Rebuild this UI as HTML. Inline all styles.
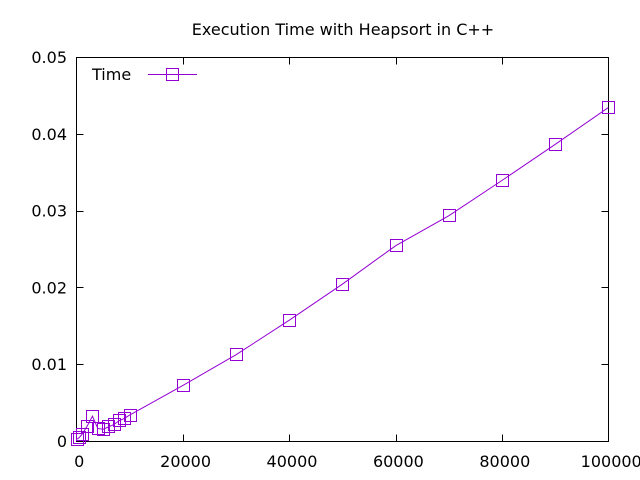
<!DOCTYPE html>
<html>
<head>
<meta charset="utf-8">
<title>Execution Time with Heapsort in C++</title>
<style>
html,body{margin:0;padding:0;background:#fff;width:640px;height:480px;overflow:hidden}
svg{display:block}
text{font-family:"DejaVu Sans","Liberation Sans",sans-serif;fill:#000}
</style>
</head>
<body>
<svg id="chart" width="640" height="480" viewBox="0 0 640 480" xmlns="http://www.w3.org/2000/svg">
<rect x="0" y="0" width="640" height="480" fill="#fff"/>
<text x="343" y="35" font-size="16" text-anchor="middle">Execution Time with Heapsort in C++</text>
<g id="ticks"></g>
<rect x="76.5" y="57.5" width="532" height="384" fill="none" stroke="#000" stroke-width="1"/>
<g id="series"></g>
<g>
<text x="92" y="80" font-size="16">Time</text>
<line x1="148" y1="74.5" x2="197" y2="74.5" stroke="#9400d3" stroke-width="1"/>
<rect x="166.5" y="68.5" width="12" height="12" fill="none" stroke="#9400d3" stroke-width="1"/>
</g>
</svg>
<script>
var sizes = [100, 500, 1000, 2000, 3000, 4000, 5000, 6000, 7000, 8000, 9000, 10000, 20000, 30000, 40000, 50000, 60000, 70000, 80000, 90000, 100000];
var times = [0.0003, 0.0005, 0.0009, 0.002, 0.0033, 0.0017, 0.0016, 0.0019, 0.0022, 0.0027, 0.003, 0.00345, 0.0073, 0.0113, 0.0158, 0.0205, 0.0255, 0.0294, 0.034, 0.0387, 0.0435];
var xTickValues = [0, 20000, 40000, 60000, 80000, 100000];
var yTickValues = [0, 0.01, 0.02, 0.03, 0.04, 0.05];
var yTickLabels = ['0', '0.01', '0.02', '0.03', '0.04', '0.05'];
var xMax = 100000;
var yMax = 0.05;

var SVG_NS = 'http://www.w3.org/2000/svg';
var plotLeft = 76.5, plotRight = 608.5, plotTop = 57.5, plotBottom = 441.5;
var tickLength = 7;

function xScale(v) { return plotLeft + (v / xMax) * (plotRight - plotLeft); }
function yScale(v) { return plotBottom - (v / yMax) * (plotBottom - plotTop); }
function crispX(p) { return Math.round(p - 0.1) + 0.5; }
function crispY(p) { return Math.floor(p) + 0.5; }

function svgEl(tag, attrs) {
  var el = document.createElementNS(SVG_NS, tag);
  for (var k in attrs) { el.setAttribute(k, attrs[k]); }
  return el;
}

var ticksGroup = document.getElementById('ticks');
var seriesGroup = document.getElementById('series');

xTickValues.forEach(function (v) {
  var x = crispX(xScale(v));
  [[plotBottom, plotBottom - tickLength], [plotTop, plotTop + tickLength]].forEach(function (pair) {
    var tick = svgEl('line', { x1: x, x2: x, y1: pair[0], y2: pair[1], stroke: '#000', 'stroke-width': 1 });
    
    
    ticksGroup.appendChild(tick);
  });
  var label = svgEl('text', { x: xScale(v) + 2.7, y: 467, 'font-size': 16, 'text-anchor': 'middle' });
  label.textContent = String(v);
  
  
  ticksGroup.appendChild(label);
});

yTickValues.forEach(function (v, i) {
  var y = crispY(yScale(v));
  [[plotLeft, plotLeft + tickLength], [plotRight, plotRight - tickLength]].forEach(function (pair) {
    var tick = svgEl('line', { x1: pair[0], x2: pair[1], y1: y, y2: y, stroke: '#000', 'stroke-width': 1 });
    
    
    ticksGroup.appendChild(tick);
  });
  var label = svgEl('text', { x: 67, y: yScale(v) + 5.5, 'font-size': 16, 'text-anchor': 'end' });
  label.textContent = yTickLabels[i];
  
  
  ticksGroup.appendChild(label);
});

var linePoints = sizes.map(function (s, i) { return xScale(s) + ',' + yScale(times[i]); }).join(' ');
var seriesLine = svgEl('polyline', { points: linePoints, fill: 'none', stroke: '#9400d3', 'stroke-width': 1 });


seriesGroup.appendChild(seriesLine);

sizes.forEach(function (s, i) {
  var marker = svgEl('rect', { x: crispX(xScale(s)) - 6, y: crispY(yScale(times[i])) - 6, width: 12, height: 12, fill: 'none', stroke: '#9400d3', 'stroke-width': 1 });
  
  
  seriesGroup.appendChild(marker);
});
</script>
</body>
</html>
